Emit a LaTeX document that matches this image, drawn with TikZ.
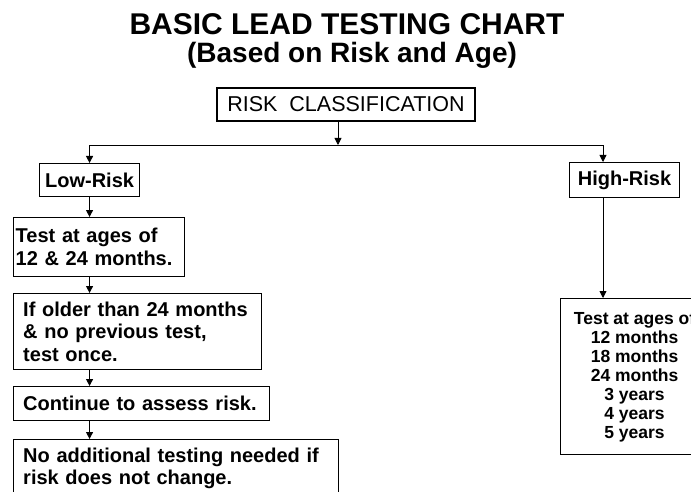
\documentclass[tikz,border=0pt]{standalone}
\usepackage{fontspec}
\setmainfont{Liberation Sans}
\usetikzlibrary{arrows.meta}

\begin{document}
\begin{tikzpicture}[x=1pt,y=-1pt,line cap=round,>={Triangle[length=7pt,width=7pt]}]
	\tikzstyle{box}=[draw,line width=1.1pt,anchor=north west,inner xsep=10pt,inner ysep=0pt,align=left,font=\bfseries\fontsize{20}{22.5}\selectfont];
	\tikzstyle{link}=[->,line width=.9pt];
	\useasboundingbox (0,0) rectangle (691,492);
	\fill[white] (0,0) rectangle (691,492);
	\clip (0,0) rectangle (691,492);
	% titles
	\node[anchor=base,font=\bfseries\fontsize{30}{30}\selectfont] (title) at (347,35) {BASIC LEAD TESTING CHART};
	\node[anchor=base,font=\bfseries\fontsize{28}{28}\selectfont] (sub) at (352,63) {(Based on Risk and Age)};
	\node[draw,line width=1.1pt,inner sep=0pt,minimum width=258,minimum height=33,font=\fontsize{21.5}{21.5}\selectfont] (rc) at (346,104.5) {RISK\ \ CLASSIFICATION};
	% low risk column
	\node[box,align=center,inner xsep=0pt,minimum width=100,minimum height=33] (lr) at (39,163) {Low-Risk};
	\node[box,inner xsep=2.5pt,text width=166.3,minimum height=59] (t1) at (12.7,217) {Test at ages of\\12 \& 24 months.};
	\node[box,text width=228.3,minimum height=76] (t2) at (12.7,293) {If older than 24 months\\\& no previous test,\\test once.};
	\node[box,text width=236.3,minimum height=34] (t3) at (12.7,386) {Continue to assess risk.};
	\node[box,text width=305.3,minimum height=58] (t4) at (12.7,439) {No additional testing needed if\\risk does not change.};
	% high risk column
	\node[box,align=center,inner xsep=0pt,minimum width=110,minimum height=35] (hr) at (569,162) {High-Risk};
	\node[box,align=center,inner xsep=0pt,minimum width=148,minimum height=156,font=\bfseries\fontsize{17.5}{19}\selectfont] (ht) at (560,298) {Test at ages of\\12 months\\18 months\\24 months\\3 years\\4 years\\5 years};
	% connectors
	\coordinate (split) at (338,145);
	\coordinate (hjoin) at (603,145);
	\draw[link] (rc.south -| split) -- (split);
	\draw[link] (split) -| (lr.north);
	\draw[link] (split) -- (hjoin) -- (hjoin |- hr.north);
	\draw[link] (hr.south -| hjoin) -- (hjoin |- ht.north);
	\draw[link] (lr.south) -- (lr.south |- t1.north);
	\draw[link] (t1.south -| lr) -- (lr |- t2.north);
	\draw[link] (t2.south -| lr) -- (lr |- t3.north);
	\draw[link] (t3.south -| lr) -- (lr |- t4.north);
\end{tikzpicture}
\end{document}
